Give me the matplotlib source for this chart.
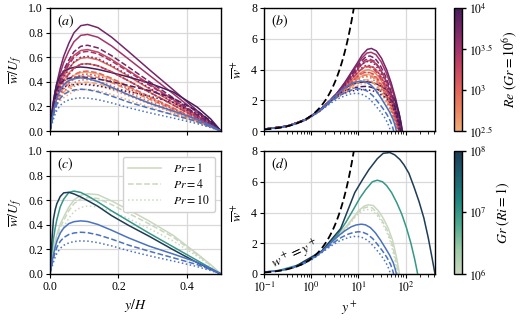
import numpy as np
import matplotlib
matplotlib.use("Agg")
import matplotlib.pyplot as plt
from matplotlib.colors import Normalize, LinearSegmentedColormap
from matplotlib.cm import ScalarMappable
from matplotlib.lines import Line2D

# wall-normal positions (y/H) shared by all profiles
yH = [0, 0.0005, 0.002, 0.005, 0.01, 0.015, 0.02, 0.03, 0.04, 0.055, 0.07,
      0.09, 0.11, 0.14, 0.18, 0.23, 0.29, 0.36, 0.43, 0.47, 0.5]

# Re sweep (Gr = 1e6): w+ profiles, half-channel height in wall units, U_f/u_tau
log_re = [2.5, 2.75, 3.0, 3.25, 3.5, 3.75, 4.0]

re_pr1_wplus = [
    [0, 0.074, 0.295, 0.72, 1.33, 1.81, 2.2, 2.58, 2.88, 3.2, 3.48, 3.66, 3.68, 3.57, 3.24, 2.74, 2.13, 1.42, 0.70, 0.31, 0],
    [0, 0.076, 0.3, 0.74, 1.36, 1.85, 2.24, 2.68, 3.03, 3.42, 3.74, 3.95, 3.98, 3.86, 3.5, 2.96, 2.3, 1.54, 0.76, 0.34, 0],
    [0, 0.078, 0.31, 0.75, 1.38, 1.88, 2.27, 2.76, 3.16, 3.6, 3.95, 4.19, 4.23, 4.1, 3.72, 3.15, 2.44, 1.64, 0.81, 0.36, 0],
    [0, 0.08, 0.32, 0.77, 1.41, 1.91, 2.31, 2.88, 3.34, 3.84, 4.26, 4.53, 4.58, 4.44, 4.03, 3.4, 2.65, 1.77, 0.87, 0.39, 0],
    [0, 0.084, 0.335, 0.8, 1.47, 1.97, 2.38, 3.07, 3.63, 4.24, 4.73, 5.07, 5.12, 4.97, 4.51, 3.81, 2.96, 1.98, 0.98, 0.44, 0],
    [0, 0.086, 0.34, 0.82, 1.5, 2.01, 2.42, 3.16, 3.76, 4.42, 4.95, 5.31, 5.37, 5.21, 4.73, 4.0, 3.1, 2.08, 1.03, 0.46, 0],
    [0, 0.084, 0.335, 0.8, 1.47, 1.97, 2.38, 2.75, 2.97, 3.12, 3.18, 3.2, 3.17, 3.08, 2.92, 2.7, 2.4, 1.95, 1.2, 0.6, 0],
]
re_pr1_h = [74, 76, 78, 80, 84, 86, 84]
re_pr1_s = [7.7, 7.27, 7.08, 6.92, 6.52, 6.2, 6.15]

re_pr4_wplus = [
    [0, 0.069, 0.275, 0.67, 1.26, 1.72, 2.1, 2.41, 2.66, 2.94, 3.16, 3.31, 3.33, 3.23, 2.93, 2.48, 1.93, 1.29, 0.64, 0.28, 0],
    [0, 0.071, 0.283, 0.69, 1.29, 1.76, 2.14, 2.52, 2.82, 3.15, 3.42, 3.61, 3.63, 3.52, 3.19, 2.7, 2.1, 1.41, 0.69, 0.31, 0],
    [0, 0.073, 0.29, 0.71, 1.31, 1.79, 2.17, 2.59, 2.93, 3.3, 3.6, 3.8, 3.83, 3.72, 3.37, 2.85, 2.21, 1.48, 0.73, 0.33, 0],
    [0, 0.074, 0.295, 0.72, 1.33, 1.81, 2.2, 2.7, 3.1, 3.54, 3.9, 4.14, 4.18, 4.05, 3.68, 3.11, 2.42, 1.62, 0.8, 0.36, 0],
    [0, 0.078, 0.31, 0.75, 1.38, 1.88, 2.27, 2.88, 3.36, 3.9, 4.33, 4.63, 4.68, 4.54, 4.11, 3.48, 2.7, 1.81, 0.89, 0.4, 0],
    [0, 0.08, 0.32, 0.77, 1.41, 1.91, 2.31, 2.96, 3.47, 4.04, 4.51, 4.82, 4.88, 4.73, 4.29, 3.63, 2.82, 1.89, 0.93, 0.42, 0],
    [0, 0.078, 0.31, 0.75, 1.38, 1.88, 2.27, 2.55, 2.72, 2.83, 2.88, 2.9, 2.87, 2.79, 2.64, 2.44, 2.17, 1.76, 1.08, 0.54, 0],
]
re_pr4_h = [69, 71, 73, 74, 78, 80, 78]
re_pr4_s = [8.4, 8.1, 7.86, 7.64, 7.23, 7.0, 6.6]

re_pr10_wplus = [
    [0, 0.065, 0.26, 0.62, 1.15, 1.58, 1.94, 2.23, 2.46, 2.72, 2.93, 3.07, 3.08, 2.99, 2.71, 2.29, 1.78, 1.19, 0.59, 0.26, 0],
    [0, 0.067, 0.265, 0.64, 1.18, 1.62, 1.98, 2.32, 2.6, 2.9, 3.15, 3.31, 3.33, 3.23, 2.93, 2.48, 1.93, 1.29, 0.64, 0.28, 0],
    [0, 0.069, 0.273, 0.66, 1.21, 1.65, 2.02, 2.4, 2.71, 3.05, 3.32, 3.5, 3.53, 3.43, 3.11, 2.63, 2.04, 1.37, 0.67, 0.3, 0],
    [0, 0.07, 0.277, 0.67, 1.22, 1.67, 2.04, 2.49, 2.85, 3.25, 3.58, 3.8, 3.83, 3.72, 3.37, 2.85, 2.21, 1.48, 0.73, 0.33, 0],
    [0, 0.074, 0.293, 0.7, 1.28, 1.74, 2.12, 2.67, 3.1, 3.58, 3.97, 4.24, 4.28, 4.15, 3.76, 3.18, 2.47, 1.66, 0.82, 0.37, 0],
    [0, 0.076, 0.3, 0.71, 1.3, 1.77, 2.15, 2.75, 3.23, 3.76, 4.19, 4.48, 4.53, 4.39, 3.98, 3.37, 2.62, 1.75, 0.86, 0.39, 0],
    [0, 0.074, 0.293, 0.7, 1.28, 1.74, 2.12, 2.38, 2.53, 2.63, 2.68, 2.7, 2.67, 2.6, 2.46, 2.27, 2.02, 1.64, 1.0, 0.5, 0],
]
re_pr10_h = [65, 67, 69, 70, 74, 76, 74]
re_pr10_s = [9.1, 8.7, 8.45, 8.28, 7.82, 7.46, 7.1]

# natural convection reference (blue), Pr = 1, 4, 10
nat_wplus = [
    [0, 0.064, 0.255, 0.62, 1.18, 1.62, 2.0, 2.5, 2.8, 3.07, 3.19, 3.24, 3.2, 3.02, 2.67, 2.2, 1.7, 1.22, 0.72, 0.33, 0],
    [0, 0.056, 0.222, 0.54, 1.03, 1.43, 1.75, 2.15, 2.4, 2.6, 2.7, 2.75, 2.72, 2.58, 2.3, 1.9, 1.5, 1.07, 0.62, 0.28, 0],
    [0, 0.048, 0.19, 0.46, 0.87, 1.24, 1.52, 1.9, 2.12, 2.3, 2.4, 2.45, 2.43, 2.32, 2.08, 1.72, 1.35, 0.96, 0.55, 0.25, 0],
]
nat_h = [64, 56, 48]
nat_s = [7.5, 8.1, 9.1]

# Gr sweep at Ri = 1
log_gr = [6, 7, 8]
gr6_wplus = [
    [0, 0.074, 0.295, 0.72, 1.33, 1.82, 2.2, 2.8, 3.2, 3.75, 4.15, 4.42, 4.5, 4.45, 4.1, 3.6, 2.97, 2.17, 1.14, 0.52, 0],
    [0, 0.07, 0.278, 0.68, 1.27, 1.74, 2.1, 2.65, 3.05, 3.6, 4.0, 4.28, 4.35, 4.3, 3.95, 3.45, 2.85, 2.1, 1.1, 0.5, 0],
    [0, 0.067, 0.265, 0.64, 1.2, 1.63, 1.98, 2.5, 2.9, 3.45, 3.85, 4.12, 4.2, 4.15, 3.87, 3.42, 2.81, 2.05, 1.1, 0.49, 0],
]
gr6_h = [74, 70, 67]
gr6_s = [6.9, 7.0, 7.6]
gr7_wplus = [0, 0.18, 0.7, 1.55, 2.55, 3.35, 4.0, 4.95, 5.5, 6.0, 6.1, 6.0, 5.75, 5.3, 4.65, 3.9, 3.0, 2.0, 1.0, 0.43, 0]
gr7_h, gr7_s = 180, 9.05
gr8_wplus = [0, 0.42, 1.5, 2.95, 5.3, 6.2, 6.8, 7.5, 7.85, 7.9, 7.75, 7.45, 7.1, 6.55, 5.65, 4.7, 3.65, 2.35, 1.1, 0.45, 0]
gr8_h, gr8_s = 420, 11.9

pr_labels = ["$Pr = 1$", "$Pr = 4$", "$Pr = 10$"]
pr_styles = ["-", "--", ":"]
blue = "#4a72c2"

plt.rcParams["font.family"] = "serif"
plt.rcParams["font.serif"] = ["Liberation Serif", "DejaVu Serif"]
plt.rcParams["mathtext.fontset"] = "stix"
plt.rcParams["font.size"] = 8.5
plt.rcParams["axes.linewidth"] = 1.0
plt.rcParams["xtick.major.size"] = 3
plt.rcParams["ytick.major.size"] = 3
plt.rcParams["xtick.minor.size"] = 1.8
plt.rcParams["xtick.major.pad"] = 2
plt.rcParams["ytick.major.pad"] = 2

re_cmap = LinearSegmentedColormap.from_list(
    "re", ["#f0ac78", "#ea8560", "#e2645a", "#c94760", "#a3336a", "#742767", "#461d5a"])
re_norm = Normalize(2.5, 4.0)
gr_cmap = LinearSegmentedColormap.from_list(
    "gr", ["#c9d7bf", "#9ccaa5", "#4ea98f", "#1f8580", "#1c5f6e", "#1d3c55"])
gr_norm = Normalize(6, 8)

fig = plt.figure(figsize=(5.2, 3.2), dpi=100)
W, H = 520, 320
def box(l, t, r, b):
    return [l / W, 1 - b / H, (r - l) / W, (b - t) / H]

ax_a = fig.add_axes(box(50, 8, 221, 131))
ax_b = fig.add_axes(box(264, 8, 435, 131))
cax1 = fig.add_axes(box(454, 8, 462, 131))
ax_c = fig.add_axes(box(50, 151, 221, 274))
ax_d = fig.add_axes(box(264, 151, 435, 274))
cax2 = fig.add_axes(box(454, 151, 462, 274))

yh = np.array(yH)

def draw(ax_o, ax_i, wplus, h, s, color, ls):
    wp = np.array(wplus)
    ax_o.plot(yh, wp / s, color=color, ls=ls, lw=1.1)
    ax_i.plot(yh[1:] * 2 * h, wp[1:], color=color, ls=ls, lw=1.1)

for sets in [(re_pr1_wplus, re_pr1_h, re_pr1_s, "-"),
             (re_pr4_wplus, re_pr4_h, re_pr4_s, "--"),
             (re_pr10_wplus, re_pr10_h, re_pr10_s, ":")]:
    wl, hl, sl, ls = sets
    for k in range(len(log_re)):
        draw(ax_a, ax_b, wl[k], hl[k], sl[k], re_cmap(re_norm(log_re[k])), ls)

for k in range(3):
    draw(ax_c, ax_d, gr6_wplus[k], gr6_h[k], gr6_s[k], gr_cmap(gr_norm(6)), pr_styles[k])
draw(ax_c, ax_d, gr7_wplus, gr7_h, gr7_s, gr_cmap(gr_norm(7)), "-")
draw(ax_c, ax_d, gr8_wplus, gr8_h, gr8_s, gr_cmap(gr_norm(8)), "-")

for k in range(3):
    draw(ax_a, ax_b, nat_wplus[k], nat_h[k], nat_s[k], blue, pr_styles[k])
    draw(ax_c, ax_d, nat_wplus[k], nat_h[k], nat_s[k], blue, pr_styles[k])

# viscous sublayer w+ = y+
ref = np.logspace(-1, np.log10(8.5), 80)
for ax in (ax_b, ax_d):
    ax.plot(ref, ref, color="black", ls=(0, (4, 2)), lw=1.3, zorder=5)

for ax in (ax_a, ax_c):
    ax.set_xlim(0, 0.5)
    ax.set_ylim(0, 1)
    ax.set_xticks([0, 0.2, 0.4])
    ax.set_yticks(np.arange(0, 1.01, 0.2))
    ax.set_ylabel(r"$\overline{w}/U_f$", fontsize=10, labelpad=3)
for ax in (ax_b, ax_d):
    ax.set_xscale("log")
    ax.set_xlim(0.1, 420)
    ax.set_ylim(0, 8)
    ax.set_yticks([0, 2, 4, 6, 8])
    ax.set_ylabel(r"$\overline{w}^+$", fontsize=10, labelpad=4)
    ax.set_xticks([0.1, 1, 10, 100])
for ax in (ax_a, ax_b, ax_c, ax_d):
    ax.grid(True, color="#d9d9d9", lw=0.9)
    ax.set_axisbelow(True)
    ax.tick_params(which="both", direction="out")
ax_a.set_yticklabels(["0.0", "0.2", "0.4", "0.6", "0.8", "1.0"])
ax_c.set_yticklabels(["0.0", "0.2", "0.4", "0.6", "0.8", "1.0"])
ax_a.set_xticklabels([])
ax_b.set_xticklabels([])
ax_c.set_xticklabels(["0.0", "0.2", "0.4"])
ax_d.set_xticklabels(["$10^{-1}$", "$10^{0}$", "$10^{1}$", "$10^{2}$"])
ax_c.set_xlabel("$y/H$", fontsize=10, labelpad=3)
ax_d.set_xlabel("$y^+$", fontsize=10, labelpad=3)

for ax, lab in zip((ax_a, ax_b, ax_c, ax_d), "abcd"):
    ax.text(0.04, 0.96, "$(" + lab + ")$", transform=ax.transAxes,
            ha="left", va="top", fontsize=10)

ax_d.text(0.45, 1.25, "$w^+ = y^+$", fontsize=10, rotation=25,
          ha="center", va="center")

handles = [Line2D([], [], color=gr_cmap(gr_norm(6)), ls=s, lw=1.1) for s in pr_styles]
leg = ax_c.legend(handles, pr_labels, loc="upper right", fontsize=8.5,
                  handlelength=2.8, borderpad=0.45, labelspacing=0.25,
                  handletextpad=1.0, framealpha=1, edgecolor="#d0d0d0",
                  fancybox=True)

cb1 = fig.colorbar(ScalarMappable(norm=re_norm, cmap=re_cmap), cax=cax1)
cb1.set_ticks([2.5, 3.0, 3.5, 4.0])
cb1.set_ticklabels(["$10^{2.5}$", "$10^{3}$", "$10^{3.5}$", "$10^{4}$"])
cb1.set_label(r"$Re\ (Gr = 10^6)$", fontsize=10, labelpad=6)
cb2 = fig.colorbar(ScalarMappable(norm=gr_norm, cmap=gr_cmap), cax=cax2)
cb2.set_ticks(log_gr)
cb2.set_ticklabels(["$10^{6}$", "$10^{7}$", "$10^{8}$"])
cb2.set_label(r"$Gr\ (Ri = 1)$", fontsize=10, labelpad=6)
for cb in (cb1, cb2):
    cb.outline.set_linewidth(1.0)
    cb.ax.tick_params(length=3, width=1.0, pad=2, labelsize=8.5)

fig.savefig("out.png", dpi=100)
